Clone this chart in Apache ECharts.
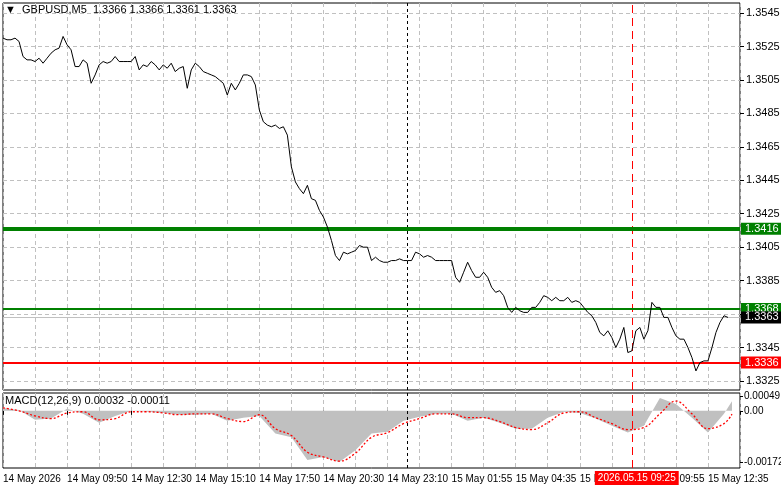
<!DOCTYPE html>
<html><head><meta charset="utf-8">
<script src="https://cdn.jsdelivr.net/npm/echarts@6/dist/echarts.min.js"></script>
<style>html,body{margin:0;padding:0;background:#fff}#c{width:781px;height:489px}</style>
</head><body><div id="c"></div>
<script>
const timeLabels = ["14 May 2026","14 May 09:50","14 May 12:30","14 May 15:10","14 May 17:50","14 May 20:30","14 May 23:10","15 May 01:55","15 May 04:35","15 May 07:15","15 May 09:55","15 May 12:35"];
const priceTicks = [1.3545,1.3525,1.3505,1.3485,1.3465,1.3445,1.3425,1.3405,1.3385,1.3345,1.3325];
const gridTicks = [1.3545,1.3525,1.3505,1.3485,1.3465,1.3445,1.3425,1.3405,1.3385,1.3365,1.3345,1.3325];
const macdTicks = [0.00049,0,-0.00172];
const close = [
1.3530,1.3529,1.3529,1.3530,1.3528,1.3519,1.3517,1.3517,1.3516,1.3518,
1.3515,1.3518,1.3521,1.3523,1.3524,1.3531,1.3526,1.3523,1.3513,1.3513,
1.3517,1.3515,1.3503,1.3508,1.3514,1.3516,1.3515,1.3516,1.3519,1.3516,
1.3516,1.3516,1.3516,1.3519,1.3511,1.3514,1.3513,1.3516,1.3514,1.3511,
1.3514,1.3512,1.3515,1.3510,1.3512,1.3513,1.3500,1.3511,1.3515,1.3513,
1.3510,1.3509,1.3508,1.3507,1.3505,1.3503,1.3496,1.3503,1.3499,1.3503,
1.3508,1.3508,1.3507,1.3502,1.3487,1.3480,1.3478,1.3477,1.3478,1.3476,
1.3477,1.3472,1.3453,1.3444,1.3440,1.3437,1.3442,1.3434,
1.3433,1.3427,1.3423,1.3417,1.3409,1.3400,1.3397,1.3402,1.3401,1.3402,
1.3403,1.3406,1.3405,1.3405,1.3397,1.3399,1.3397,1.3396,1.3396,1.3397,
1.3397,1.3398,1.3397,1.3397,1.3397,1.3402,1.3401,1.3399,1.3400,
1.3399,1.3397,1.3397,1.3397,1.3397,1.3397,1.3387,1.3384,1.3390,1.3396,
1.3391,1.3387,1.3387,1.3390,1.3387,1.3381,1.3378,1.3379,1.3376,1.3369,
1.3366,1.3369,1.3367,1.3366,1.3366,1.3369,1.3369,1.3372,1.3376,1.3375,
1.3373,1.3375,1.3373,1.3373,1.3375,1.3372,1.3373,1.3372,1.3369,1.3366,
1.3364,1.3360,1.3354,1.3352,1.3355,1.3351,1.3345,1.3350,1.3357,1.3342,
1.3343,1.3355,1.3357,1.3350,1.3355,1.3372,1.3369,1.3369,1.3363,1.3363,
1.3357,1.3352,1.3350,1.3350,1.3345,1.3339,1.3331,1.3336,1.3337,1.3337,
1.3345,1.3354,1.3360,1.3364,1.3363];
const macdHist = [0.00010,0.00003,-0.00030,-0.00026,0.00007,-0.00010,-0.00040,-0.00017,0,-0.00003,
-0.00007,-0.00013,-0.00013,-0.00010,-0.00033,-0.00023,-0.00017,-0.00076,-0.00089,-0.00165,
-0.00155,-0.00172,-0.00132,-0.00076,-0.00070,-0.00033,-0.00020,-0.00010,-0.00010,-0.00033,
-0.00023,-0.00040,-0.00060,-0.00060,-0.00023,-0.00003,-0.00007,-0.00026,-0.00050,-0.00073,
-0.00050,0.00043,0.00023,-0.00023,-0.00073,-0.00010,0.00032];
const macdSignal = [0.00010,0,-0.00017,-0.00026,-0.00007,-0.00003,-0.00030,-0.00026,-0.00003,-0.00003,
-0.00007,-0.00013,-0.00010,-0.00010,-0.00026,-0.00036,-0.00013,-0.00060,-0.00083,-0.00139,
-0.00155,-0.00169,-0.00142,-0.00089,-0.00073,-0.00043,-0.00026,-0.00010,-0.00010,-0.00023,
-0.00023,-0.00036,-0.00056,-0.00063,-0.00040,-0.00007,-0.00003,-0.00023,-0.00043,-0.00063,
-0.00056,-0.00010,0.00033,-0.00010,-0.00060,-0.00043,-0.00011];
const levels = {res2:1.3416, res1:1.3368, last:1.3363, sup:1.3336};

const N = 185;
const cats = [];
for (let i=0;i<N;i++) cats.push(i%16===0 && timeLabels[i/16] ? timeLabels[i/16] : 'b'+i);
const step = 4;
const idxOf = k => k < macdHist.length-1 ? k*step : 182;
const histData = new Array(N).fill(null), sigData = new Array(N).fill(null);
macdHist.forEach((v,k)=>{histData[idxOf(k)]=v;});
macdSignal.forEach((v,k)=>{sigData[idxOf(k)]=v;});
const dayIdx = 101, crossIdx = 157;

const font = 'Liberation Sans';
const grey = '#c0c0c0';
const tag = (val,bg,fg,w)=>({yAxis:val,lineStyle:{color:bg==='#000000'?grey:bg,width:w,type:'solid'},
  label:{show:true,position:'end',formatter:val.toFixed(4),backgroundColor:bg,color:fg,fontFamily:font,fontSize:11,lineHeight:12,padding:[0,4,0,4],distance:1}});
const vLines = [
  {xAxis:cats[dayIdx],lineStyle:{color:'#000',type:[3,3],width:1}},
  {xAxis:cats[crossIdx],lineStyle:{color:'#ff0000',type:[8,5],width:1}}];

const chart = echarts.init(document.getElementById('c'));
chart.setOption({
  animation:false, backgroundColor:'#fff',
  textStyle:{fontFamily:font},
  grid:[{left:3,right:41,top:3,height:387,show:true,borderColor:'#000',borderWidth:1,outerBoundsMode:'none',containLabel:false},
        {left:3,right:41,top:393,height:75,show:true,borderColor:'#000',borderWidth:1,outerBoundsMode:'none',containLabel:false}],
  xAxis:[{type:'category',data:cats,gridIndex:0,boundaryGap:false,axisLine:{show:false},axisTick:{show:false},axisLabel:{show:false},
          splitLine:{show:true,interval:7,lineStyle:{color:grey,type:[4,3]}}},
         {type:'category',data:cats,gridIndex:1,boundaryGap:false,axisLine:{show:false},
          axisTick:{show:true,interval:15,length:4,lineStyle:{color:'#000'}},
          axisLabel:{interval:15,showMinLabel:true,showMaxLabel:true,hideOverlap:false,align:'left',color:'#000',fontSize:10,fontFamily:font,margin:6,formatter:v=>v.startsWith('b')?'':v},
          splitLine:{show:true,interval:7,lineStyle:{color:grey,type:[4,3]}}}],
  yAxis:[{type:'value',gridIndex:0,position:'right',min:1.33196,max:1.35510,splitLine:{show:false},
          axisLine:{show:false},axisTick:{show:true,customValues:gridTicks,length:4,lineStyle:{color:'#000'}},
          axisLabel:{customValues:priceTicks,color:'#000',fontSize:11,fontFamily:font,margin:6,formatter:v=>v.toFixed(4)}},
         {type:'value',gridIndex:1,position:'right',min:-0.00192,max:0.00060,splitLine:{show:false},
          axisLine:{show:false},axisTick:{show:true,customValues:macdTicks,length:3,lineStyle:{color:'#000'}},
          axisLabel:{customValues:macdTicks,color:'#000',fontSize:10,fontFamily:font,margin:4,formatter:v=>v===0?'0.00':v.toFixed(5)}}],
  series:[
    {type:'line',xAxisIndex:0,yAxisIndex:0,data:close,symbol:'none',lineStyle:{color:'#000',width:1},z:5,
     markLine:{silent:true,symbol:'none',precision:6,animation:false,label:{show:false},
       data:[
        ...gridTicks.map(v=>({yAxis:v,lineStyle:{color:grey,type:[4,3],width:1}})),
        ...vLines,
        tag(levels.res2,'#008000','#fff',4),
        tag(levels.sup,'#ff0000','#fff',2),
        tag(levels.res1,'#008000','#fff',2),
        tag(levels.last,'#000000','#fff',1)
       ]}},
    {type:'line',xAxisIndex:1,yAxisIndex:1,data:histData,connectNulls:true,symbol:'none',
     lineStyle:{width:0},areaStyle:{color:grey,opacity:1},z:2},
    {type:'line',xAxisIndex:1,yAxisIndex:1,data:[],symbol:'none',
     markLine:{silent:true,symbol:'none',label:{show:false},data:vLines}},
    {type:'line',xAxisIndex:1,yAxisIndex:1,data:sigData,connectNulls:true,symbol:'none',smooth:0.4,
     lineStyle:{color:'#ff0000',width:1.3,type:[2,2]},z:4}
  ]
});
const px = chart.convertToPixel({xAxisIndex:1},crossIdx);
chart.setOption({graphic:[
  {type:'text',left:5,top:4,style:{text:'▼  GBPUSD,M5  1.3366 1.3366 1.3361 1.3363',fill:'#000',font:'11px '+font}},
  {type:'text',left:5,top:395,style:{text:'MACD(12,26,9) 0.00032 -0.00011',fill:'#000',font:'11px '+font}},
  {type:'text',x:px-37,y:471,z:100,zlevel:1,style:{text:'2026.05.15 09:25',fill:'#fff',backgroundColor:'#ff0000',padding:[2,3,2,3],font:'10px '+font}}
]});
</script></body></html>
